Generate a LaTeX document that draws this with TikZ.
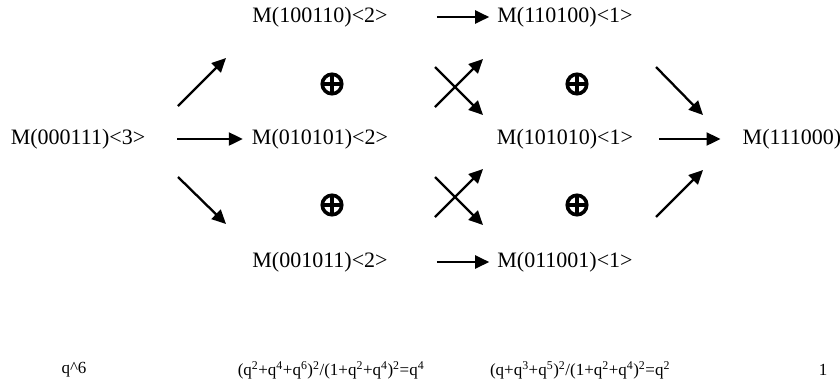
\documentclass[tikz,border=0pt]{standalone}
\usepackage{fontspec}
\setmainfont{Liberation Serif}
\usepackage{tikz}
\usetikzlibrary{arrows.meta}

\begin{document}
\begin{tikzpicture}[
  x=1pt,y=-1pt,
  mod/.style={inner sep=0pt,font=\fontsize{22}{26}\selectfont},
  dimtext/.style={inner sep=0pt,font=\fontsize{17}{20}\selectfont},
  dsum/.style={circle,draw,line width=3.6pt,minimum size=19.5pt,inner sep=0pt,
    path picture={\draw[line width=3.4pt] (path picture bounding box.north) -- (path picture bounding box.south)
      (path picture bounding box.west) -- (path picture bounding box.east);}},
  arr/.style={-{Triangle[length=14pt,width=13pt]},line width=2.3pt},
]
\useasboundingbox (0,0) rectangle (840,384);
\node[mod] (m000111) at (78,139) {M(000111)<3>};
\node[mod] (m100110) at (320,17) {M(100110)<2>};
\node[mod] (m010101) at (320,139) {M(010101)<2>};
\node[mod] (m001011) at (320,262) {M(001011)<2>};
\node[mod] (m110100) at (565,17) {M(110100)<1>};
\node[mod] (m101010) at (565,139) {M(101010)<1>};
\node[mod] (m011001) at (565,262) {M(011001)<1>};
\node[mod] (m111000) at (792,139) {M(111000)};
\node[dsum] (s1) at (332,84) {};
\node[dsum] (s2) at (332,205) {};
\node[dsum] (s3) at (577,84) {};
\node[dsum] (s4) at (577,205) {};
% arrow ends
\coordinate (a1) at (178,106); \coordinate (b1) at (226,58);
\coordinate (a2) at (178,177); \coordinate (b2) at (226,224);
\coordinate (a3) at (435,107); \coordinate (b3) at (483,59);
\coordinate (a4) at (435,67);  \coordinate (b4) at (483,115);
\coordinate (a5) at (435,217); \coordinate (b5) at (483,169);
\coordinate (a6) at (435,177); \coordinate (b6) at (483,225);
\coordinate (a7) at (656,67);  \coordinate (b7) at (703,115);
\coordinate (a8) at (656,217); \coordinate (b8) at (703,170);
\draw[arr] (a1) -- (b1);
\draw[arr] (a2) -- (b2);
\draw[arr,shorten <=32pt,shorten >=9pt] (m000111.east) -- (m010101.west);
\draw[arr,shorten <=49pt,shorten >=8pt] (m100110.east) -- (m110100.west);
\draw[arr,shorten <=49pt,shorten >=8pt] (m001011.east) -- (m011001.west);
\draw[arr] (a3) -- (b3);
\draw[arr] (a4) -- (b4);
\draw[arr] (a5) -- (b5);
\draw[arr] (a6) -- (b6);
\draw[arr] (a7) -- (b7);
\draw[arr,shorten <=26pt,shorten >=22pt] (m101010.east) -- (m111000.west);
\draw[arr] (a8) -- (b8);
% dimensions
\node[dimtext] (d0) at (74,370) {q\^{}6};
\node[dimtext] (d1) at (331,370) {(q\textsuperscript{2}+q\textsuperscript{4}+q\textsuperscript{6})\textsuperscript{2}/(1+q\textsuperscript{2}+q\textsuperscript{4})\textsuperscript{2}=q\textsuperscript{4}};
\node[dimtext] (d2) at (580,370) {(q+q\textsuperscript{3}+q\textsuperscript{5})\textsuperscript{2}/(1+q\textsuperscript{2}+q\textsuperscript{4})\textsuperscript{2}=q\textsuperscript{2}};
\node[dimtext] (d3) at (823,370) {1};
\end{tikzpicture}
\end{document}
